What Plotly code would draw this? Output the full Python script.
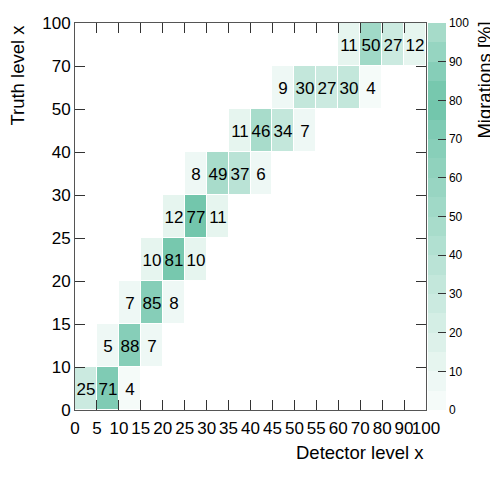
import plotly.graph_objects as go

# --- données : matrice de migration (truth x detector), en % ---
x_edges = ["0", "5", "10", "15", "20", "25", "30", "35", "40", "45",
           "50", "55", "60", "70", "80", "90", "100"]
y_edges = ["0", "10", "15", "20", "25", "30", "40", "50", "70", "100"]

row_0_10 = [25, 71, 4] + [None] * 13
row_10_15 = [None, 5, 88, 7] + [None] * 12
row_15_20 = [None] * 2 + [7, 85, 8] + [None] * 11
row_20_25 = [None] * 3 + [10, 81, 10] + [None] * 10
row_25_30 = [None] * 4 + [12, 77, 11] + [None] * 9
row_30_40 = [None] * 5 + [8, 49, 37, 6] + [None] * 7
row_40_50 = [None] * 7 + [11, 46, 34, 7] + [None] * 5
row_50_70 = [None] * 9 + [9, 30, 27, 30, 4] + [None] * 2
row_70_100 = [None] * 12 + [11, 50, 27, 12]

migrations = [row_0_10, row_10_15, row_15_20, row_20_25, row_25_30,
              row_30_40, row_40_50, row_50_70, row_70_100]

# palette en 20 bandes (0 -> 100 %)
band_colors = [
    "#f5fbf9", "#eef8f5", "#e6f5ef", "#ddf1ea", "#d4eee5",
    "#cbeae0", "#c3e7db", "#bae3d6", "#b1e0d1", "#a8dccb",
    "#a0d9c7", "#98d5c2", "#90d2bd", "#88cfb9", "#7fcbb4",
    "#73c6ac", "#77c8ae", "#86ceb8", "#96d5c1", "#a6dbc9",
]

n = len(band_colors)
colorscale = []
for i, c in enumerate(band_colors):
    colorscale.append([i / n, c])
    colorscale.append([(i + 1) / n, c])

nx = len(x_edges) - 1
ny = len(y_edges) - 1
x_centers = [i + 0.5 for i in range(nx)]
y_centers = [j + 0.5 for j in range(ny)]
labels = [["" if v is None else str(v) for v in row] for row in migrations]

FONT = "Liberation Sans, Arial, sans-serif"
TITLE_SIZE = 18.5

fig = go.Figure(
    go.Heatmap(
        x=x_centers,
        y=y_centers,
        z=migrations,
        text=labels,
        texttemplate="%{text}",
        textfont=dict(family=FONT, size=17, color="black"),
        colorscale=colorscale,
        zmin=0,
        zmax=100,
        xgap=1,
        ygap=1,
        hoverongaps=False,
        colorbar=dict(
            x=1.005,
            xanchor="left",
            xpad=0,
            ypad=0,
            y=0,
            yanchor="bottom",
            len=1,
            thickness=18,
            outlinewidth=0,
            tickvals=list(range(0, 101, 10)),
            ticks="inside",
            ticklen=8,
            tickcolor="#333",
            tickfont=dict(family=FONT, size=12, color="black"),
        ),
    )
)

axis_common = dict(
    showgrid=False,
    zeroline=False,
    showline=True,
    linecolor="#555",
    linewidth=1,
    mirror="ticks",
    ticks="inside",
    ticklen=10,
    tickcolor="#333",
    tickangle=0,
    automargin=False,
    tickfont=dict(family=FONT, size=17, color="black"),
)

fig.update_xaxes(
    range=[0, nx],
    tickvals=list(range(nx + 1)),
    ticktext=x_edges,
    ticklabelstandoff=3,
    **axis_common,
)
fig.update_yaxes(
    range=[0, ny],
    tickvals=list(range(ny + 1)),
    ticktext=y_edges,
    ticklabelstandoff=0,
    **axis_common,
)

fig.add_annotation(
    text="Detector level x", xref="paper", yref="paper",
    x=1, y=-0.11, xanchor="right", yanchor="middle", showarrow=False,
    font=dict(family=FONT, size=TITLE_SIZE, color="black"),
)
fig.add_annotation(
    text="Truth level x", xref="paper", yref="paper",
    x=-0.165, y=1.0, xanchor="center", yanchor="top", textangle=-90,
    showarrow=False, font=dict(family=FONT, size=TITLE_SIZE, color="black"),
)
fig.add_annotation(
    text="Migrations [%]", xref="paper", yref="paper",
    x=1.168, y=1.01, xanchor="center", yanchor="top", textangle=-90,
    showarrow=False, font=dict(family=FONT, size=TITLE_SIZE, color="black"),
)

# la page ajoute 8 px de marge : figure réduite d'autant
fig.update_layout(
    width=490,
    height=475,
    margin=dict(l=67, r=72, t=15, b=73, autoexpand=False),
    plot_bgcolor="white",
    paper_bgcolor="white",
)

fig.write_html("out.html")
